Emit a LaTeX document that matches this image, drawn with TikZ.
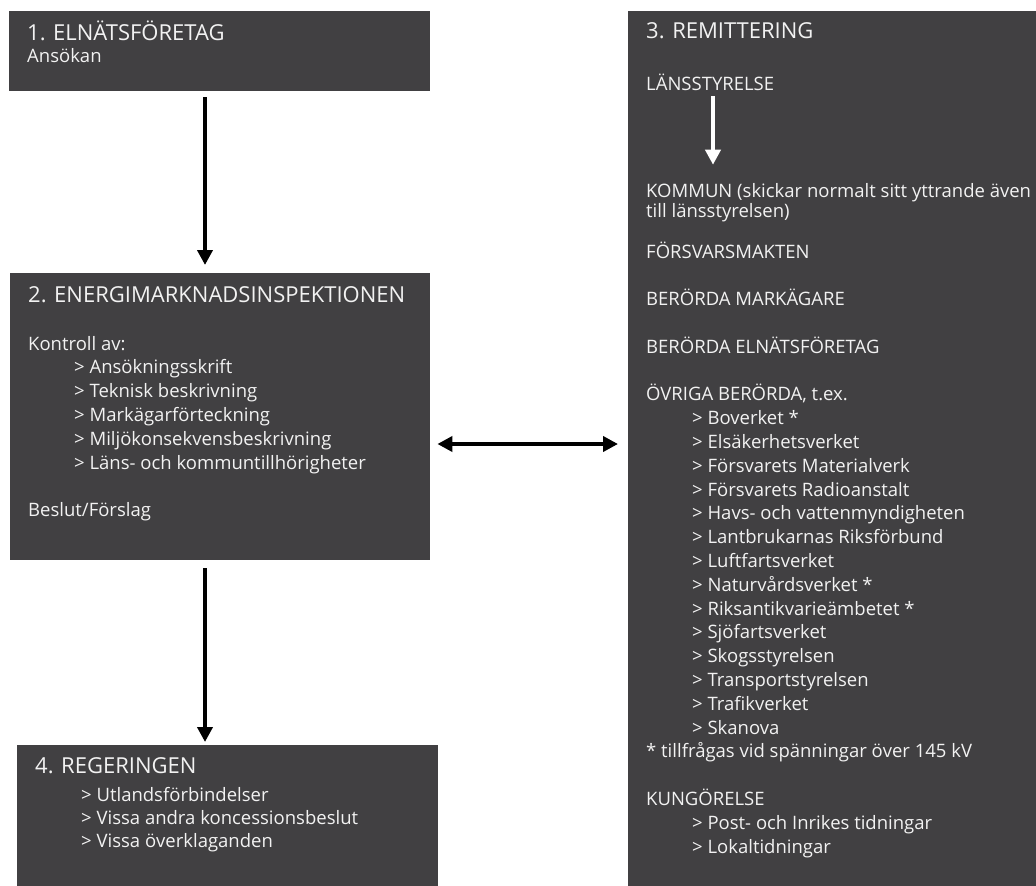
\documentclass[tikz,border=0pt]{standalone}
\usepackage{fontspec}
\setmainfont{Open Sans}
\usetikzlibrary{arrows.meta}
\definecolor{boxgray}{HTML}{414042}
\definecolor{txtwhite}{HTML}{F2F2F2}
\tikzset{
  box/.style={fill=boxgray, draw=none, anchor=north west, inner sep=0pt},
  ttl/.style={text=txtwhite, anchor=base west, inner sep=0pt, font=\fontsize{22}{24}\selectfont},
  body/.style={text=txtwhite, anchor=base west, inner sep=0pt, font=\fontsize{18.5}{23.8}\selectfont},
  arr/.style={line width=4.5pt, -{Triangle[length=15pt,width=15pt]}},
  darr/.style={line width=4.5pt, {Triangle[length=15pt,width=15pt]}-{Triangle[length=15pt,width=15pt]}},
}
\newcommand{\itm}{\hspace*{46pt}> }
\newenvironment{lines}{\begin{tabular}[t]{@{}l@{}}}{\end{tabular}}
\begin{document}
\begin{tikzpicture}[x=1pt,y=-1pt]
\useasboundingbox (0,0) rectangle (1036,886);
\clip (0,0) rectangle (1036,886);
\fill[white] (0,0) rectangle (1036,886);
% boxes
\node[box, minimum width=421pt, minimum height=80pt] (box1) at (9,11) {};
\node[box, minimum width=420pt, minimum height=287pt] (box2) at (10,273) {};
\node[box, minimum width=420pt, minimum height=890pt] (box3) at (628,11) {};
\node[box, minimum width=421pt, minimum height=150pt] (box4) at (17,745) {};
% box1 text
\node[ttl] (t1) at (27,40) {1. ELNÄTSFÖRETAG};
\node[body] (t1b) at (27,62) {Ansökan};
% box2 text
\node[ttl] (t2) at (28,302) {2. ENERGIMARKNADSINSPEKTIONEN};
\node[body] (t2b) at (28,350) {\begin{lines}Kontroll av:\\
\itm Ansökningsskrift\\
\itm Teknisk beskrivning\\
\itm Markägarförteckning\\
\itm Miljökonsekvensbeskrivning\\
\itm Läns- och kommuntillhörigheter\\
\\
Beslut/Förslag\end{lines}};
% box3 text
\node[ttl] (t3) at (646,38) {3. REMITTERING};
\node[body] (lans) at (646,90) {LÄNSSTYRELSE};
\node[body, font=\fontsize{18.5}{20}\selectfont] (komm) at (646,197) {\begin{lines}KOMMUN (skickar normalt sitt yttrande även\\till länsstyrelsen)\end{lines}};
\node[body] (t3b) at (646,258) {\begin{lines}FÖRSVARSMAKTEN\\
\\
BERÖRDA MARKÄGARE\\
\\
BERÖRDA ELNÄTSFÖRETAG\\
\\
ÖVRIGA BERÖRDA, t.ex.\\
\itm Boverket *\\
\itm Elsäkerhetsverket\\
\itm Försvarets Materialverk\\
\itm Försvarets Radioanstalt\\
\itm Havs- och vattenmyndigheten\\
\itm Lantbrukarnas Riksförbund\\
\itm Luftfartsverket\\
\itm Naturvårdsverket *\\
\itm Riksantikvarieämbetet *\\
\itm Sjöfartsverket\\
\itm Skogsstyrelsen\\
\itm Transportstyrelsen\\
\itm Trafikverket\\
\itm Skanova\\
\relax * tillfrågas vid spänningar över 145 kV\\
\\
KUNGÖRELSE\\
\itm Post- och Inrikes tidningar\\
\itm Lokaltidningar\end{lines}};
% box4 text
\node[ttl] (t4) at (35,773) {4. REGERINGEN};
\node[body, font=\fontsize{18.5}{23}\selectfont] (t4b) at (35,801) {\begin{lines}\itm Utlandsförbindelser\\
\itm Vissa andra koncessionsbeslut\\
\itm Vissa överklaganden\end{lines}};
% connectors
\coordinate (ax) at (205,0);
\coordinate (my) at (0,444);
\coordinate (wx) at (713,0);
\draw[arr, shorten <=6pt, shorten >=8pt] (box1.south -| ax) -- (box2.north -| ax);
\draw[arr, shorten <=8pt, shorten >=3pt] (box2.south -| ax) -- (box4.north -| ax);
\draw[darr, shorten <=7pt, shorten >=10pt] (box2.east |- my) -- (box3.west |- my);
\draw[arr, white, shorten <=6pt, shorten >=18pt] (lans.south -| wx) -- (komm.north -| wx);
\end{tikzpicture}
\end{document}
